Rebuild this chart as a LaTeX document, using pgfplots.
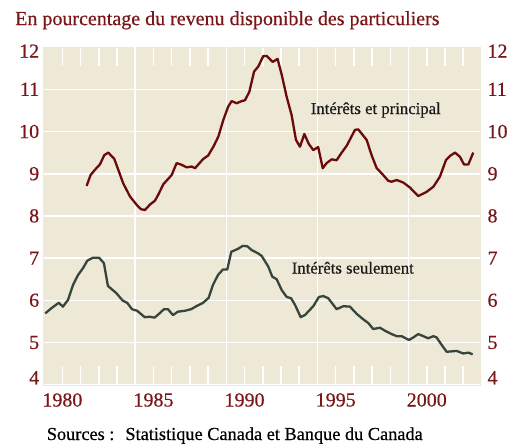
\documentclass[border=0pt]{standalone}
\usepackage{pgfplots}
\pgfplotsset{compat=1.18}
\usepackage{fontspec}
\setmainfont{Liberation Serif}[FakeBold=0.5]
\definecolor{bgbeige}{HTML}{EEE8D6}
\definecolor{redline}{HTML}{6B0A0A}
\definecolor{greenline}{HTML}{37453F}
\definecolor{labred}{HTML}{7A1518}
\begin{document}
\begin{tikzpicture}
\pgfplotsset{
  common/.style={
    scale only axis, width=437.3pt, height=337.6pt,
    xmin=1979.92, xmax=2003.92, ymin=4, ymax=12,
  },
}
\begin{axis}[common,
  axis line style={bgbeige, line width=0.1pt},
  axis background/.style={fill=bgbeige},
  ytick={4,...,12},
  yticklabels={\raisebox{7pt}[\height][\depth]{4},5,6,7,8,9,10,11,\raisebox{-4pt}[\height][\depth]{12}},
  ymajorgrids,
  grid style={white, line width=1.6pt},
  yticklabel style={font=\fontsize{20}{22}\selectfont, text=labred},
  xtick={1981,...,2003},
  xticklabels={1980,,,,,1985,,,,,1990,,,,,1995,,,,,2000,,},
  xticklabel style={font=\fontsize{20}{22}\selectfont, text=labred, yshift=-5pt},
  extra x ticks={1985,1990,1995,2000},
  extra x tick labels={},
  extra x tick style={grid=major},
  major tick length=19pt,
  xtick style={white, line width=1.6pt},
  ytick style={white, line width=1.6pt},
  xtick pos=both, tick align=inside,
  ytick pos=left,
  clip=false,
]
\addplot[redline, line width=2.3pt, line join=round] coordinates {
(1982.33,8.71) (1982.55,8.97) (1982.80,9.10) (1983.06,9.22) (1983.30,9.44) (1983.52,9.50)
(1983.85,9.35) (1984.07,9.09) (1984.34,8.77) (1984.71,8.46) (1985.08,8.26) (1985.31,8.16)
(1985.53,8.14) (1985.81,8.27) (1986.08,8.36) (1986.26,8.50) (1986.54,8.75) (1987.00,8.97)
(1987.27,9.25) (1987.55,9.21) (1987.82,9.15) (1988.10,9.17) (1988.28,9.13) (1988.73,9.35)
(1989.00,9.43) (1989.30,9.65) (1989.56,9.88) (1989.83,10.27) (1990.10,10.59) (1990.29,10.72)
(1990.56,10.67) (1990.84,10.72) (1991.02,10.74) (1991.26,10.94) (1991.52,11.42) (1991.75,11.54)
(1992.03,11.79) (1992.21,11.79) (1992.54,11.65) (1992.81,11.72) (1993.04,11.34) (1993.31,10.82)
(1993.58,10.39) (1993.82,9.80) (1994.04,9.64) (1994.28,9.94) (1994.53,9.70) (1994.77,9.56)
(1995.04,9.63) (1995.29,9.13) (1995.50,9.25) (1995.78,9.34) (1996.05,9.32) (1996.33,9.50)
(1996.60,9.66) (1997.06,10.04) (1997.24,10.05) (1997.70,9.80) (1997.97,9.44) (1998.25,9.13)
(1998.52,9.01) (1998.89,8.83) (1999.07,8.81) (1999.35,8.85) (1999.71,8.79) (2000.08,8.67)
(2000.53,8.47) (2000.99,8.57) (2001.36,8.69) (2001.72,8.93) (2002.05,9.32) (2002.27,9.42)
(2002.55,9.50) (2002.82,9.40) (2003.04,9.22) (2003.28,9.22) (2003.55,9.50)
};
\addplot[greenline, line width=2.3pt, line join=round] coordinates {
(1980.06,5.69) (1980.39,5.81) (1980.80,5.94) (1981.03,5.85) (1981.31,6.01) (1981.58,6.36)
(1981.86,6.60) (1982.13,6.76) (1982.37,6.94) (1982.68,7.01) (1983.01,7.01) (1983.28,6.88)
(1983.50,6.34) (1983.96,6.17) (1984.32,5.99) (1984.56,5.94) (1984.82,5.79) (1985.11,5.75)
(1985.52,5.60) (1985.79,5.61) (1986.06,5.59) (1986.28,5.67) (1986.58,5.79) (1986.79,5.79)
(1987.07,5.65) (1987.34,5.73) (1987.71,5.75) (1988.07,5.79) (1988.35,5.86) (1988.72,5.94)
(1989.03,6.06) (1989.26,6.36) (1989.54,6.60) (1989.81,6.73) (1990.05,6.73) (1990.27,7.15)
(1990.64,7.22) (1990.90,7.29) (1991.15,7.28) (1991.39,7.19) (1991.75,7.11) (1991.94,7.05)
(1992.30,6.80) (1992.52,6.56) (1992.76,6.50) (1993.04,6.24) (1993.31,6.08) (1993.55,6.05)
(1993.77,5.89) (1994.08,5.60) (1994.31,5.65) (1994.77,5.86) (1995.08,6.08) (1995.32,6.10)
(1995.59,6.05) (1996.05,5.79) (1996.42,5.86) (1996.78,5.85) (1997.15,5.68) (1997.51,5.55)
(1997.79,5.46) (1998.06,5.32) (1998.43,5.35) (1998.70,5.28) (1999.07,5.20) (1999.35,5.15)
(1999.62,5.15) (2000.02,5.06) (2000.26,5.12) (2000.53,5.20) (2000.81,5.15) (2001.08,5.10)
(2001.36,5.15) (2001.54,5.12) (2001.82,4.94) (2002.09,4.78) (2002.64,4.80) (2003.00,4.74)
(2003.28,4.76) (2003.52,4.72)
};
\node[font=\fontsize{16.7}{19}\selectfont, text=black!90] at (axis cs:1998.2,10.51) {Intérêts et principal};
\node[font=\fontsize{16.7}{19}\selectfont, text=black!90] at (axis cs:1996.94,6.77) {Intérêts seulement};
\node[anchor=base west, font=\fontsize{20}{22}\selectfont, text=labred] at ([xshift=-31pt,yshift=22pt]rel axis cs:0,1) {En pourcentage du revenu disponible des particuliers};
\node[anchor=base west, font=\fontsize{18.3}{20}\selectfont, text=black] at ([xshift=0.6pt,yshift=-55.3pt]rel axis cs:0,0) {Sources~:\hspace{0.6em}Statistique Canada et Banque du Canada};
\path (rel axis cs:0,0) ++(-42.7pt,-58.3pt) coordinate (bbsw);
\path (rel axis cs:1,1) ++(33pt,47.1pt) coordinate (bbne);
\end{axis}
\begin{axis}[common,
  axis line style={draw=none},
  ytick={4,...,12},
  yticklabels={\raisebox{7pt}[\height][\depth]{4},5,6,7,8,9,10,11,\raisebox{-4pt}[\height][\depth]{12}},
  ytick pos=right, yticklabel pos=right,
  major tick length=0pt,
  yticklabel style={font=\fontsize{20}{22}\selectfont, text=labred, xshift=4pt},
  xtick=\empty,
]
\end{axis}
\useasboundingbox (bbsw) rectangle (bbne);
\end{tikzpicture}
\end{document}
